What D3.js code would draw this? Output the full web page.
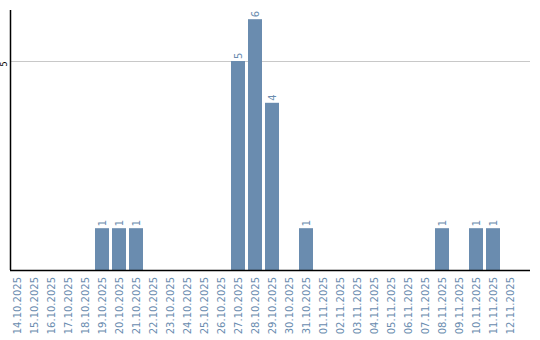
<!DOCTYPE html>
<html><head><meta charset="utf-8">
<script src="https://cdn.jsdelivr.net/npm/d3@7"></script>
<style>body{margin:0;background:#fff}svg{display:block}</style>
</head><body><svg id="c" width="540" height="340"></svg>
<script>
const categories = ["14.10.2025","15.10.2025","16.10.2025","17.10.2025","18.10.2025","19.10.2025","20.10.2025","21.10.2025","22.10.2025","23.10.2025","24.10.2025","25.10.2025","26.10.2025","27.10.2025","28.10.2025","29.10.2025","30.10.2025","31.10.2025","01.11.2025","02.11.2025","03.11.2025","04.11.2025","05.11.2025","06.11.2025","07.11.2025","08.11.2025","09.11.2025","10.11.2025","11.11.2025","12.11.2025"];
const values = [0,0,0,0,0,1,1,1,0,0,0,0,0,5,6,4,0,1,0,0,0,0,0,0,0,1,0,1,1,0];
const yTicks = [5];

const svg = d3.select("#c");
const color = "#6a8caf";
const x0 = 10, x1 = 530, yBottom = 270, yTop = 10;
const p = 3/17;
const x = d3.scaleBand().domain(categories).range([x0, x0 + 17*(categories.length - p)]).paddingInner(p).paddingOuter(0);
const y = d3.scaleLinear().domain([0, 6.22]).range([yBottom, yTop]);

// grid
svg.append("g").selectAll("line").data(yTicks).join("line")
  .attr("x1", x0).attr("x2", x1)
  .attr("y1", d => Math.round(y(d)) + 0.5).attr("y2", d => Math.round(y(d)) + 0.5)
  .attr("stroke", "#c8c8c8").attr("stroke-width", 1);

const data = values.map((v,i)=>({c:categories[i], v})).filter(d=>d.v>0);

// bars
svg.append("g").selectAll("rect").data(data).join("rect")
  .attr("x", d => x(d.c)).attr("width", x.bandwidth())
  .attr("y", d => y(d.v)).attr("height", d => yBottom - y(d.v))
  .attr("fill", color);

// bar labels
svg.append("g").selectAll("text").data(data).join("text")
  .attr("transform", d => `translate(${x(d.c) + x.bandwidth()/2},${y(d.v) - 2}) rotate(-90)`)
  .attr("dy", "0.35em")
  .attr("text-anchor", "start")
  .attr("font-family", "DejaVu Sans, sans-serif").attr("font-size", 10)
  .attr("fill", color)
  .text(d => d.v);

// x axis
const xAxis = svg.append("g").attr("transform", `translate(0,${yBottom})`)
  .call(d3.axisBottom(x).tickSize(0).tickPadding(0));
xAxis.select(".domain").remove();
xAxis.append("line").attr("x1", x0).attr("x2", x1).attr("y1", 0.5).attr("y2", 0.5).attr("stroke", "#000").attr("stroke-width", 1.5);
xAxis.selectAll(".tick text")
  .attr("transform", "rotate(-90)")
  .attr("x", -7).attr("y", 0).attr("dy", "0.35em")
  .attr("text-anchor", "end")
  .attr("font-family", "DejaVu Sans, sans-serif").attr("font-size", 10)
  .attr("fill", color);

// y axis
const yAxis = svg.append("g").attr("transform", `translate(${x0},0)`)
  .call(d3.axisLeft(y).tickValues(yTicks).tickFormat(d3.format("d")).tickSize(0).tickPadding(0));
yAxis.select(".domain").remove();
yAxis.append("line").attr("x1", 0.5).attr("x2", 0.5).attr("y1", yTop).attr("y2", yBottom).attr("stroke", "#000").attr("stroke-width", 1.5);
yAxis.selectAll(".tick text")
  .attr("transform", "rotate(-90)")
  .attr("x", 0).attr("y", -3)
  .attr("text-anchor", "end").attr("dy", 0)
  .attr("font-family", "DejaVu Sans, sans-serif").attr("font-size", 8)
  .attr("fill", "#000");
</script></body></html>
